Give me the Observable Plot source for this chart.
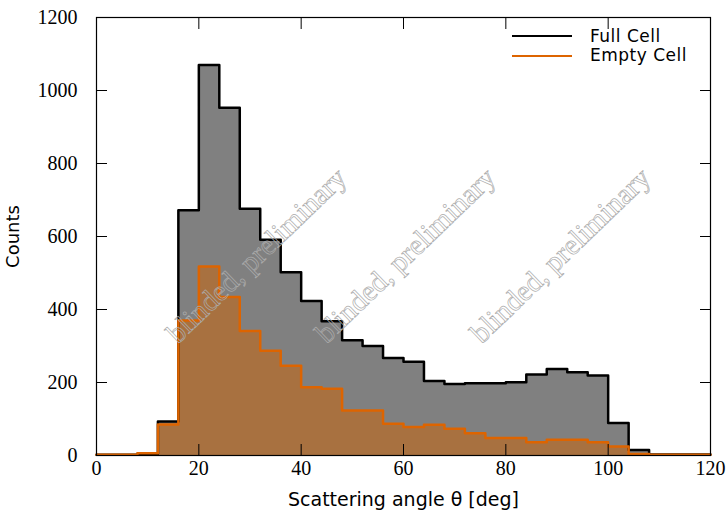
<!DOCTYPE html>
<html><head><meta charset="utf-8">
<script src="https://cdn.jsdelivr.net/npm/d3@7"></script>
<script src="https://cdn.jsdelivr.net/npm/@observablehq/plot@0.6"></script>
<style>
body{margin:0;background:#fff;}
#wrap{position:relative;width:728px;height:513px;}
.leg{position:absolute;font-family:"DejaVu Sans",sans-serif;font-size:17px;letter-spacing:0.5px;line-height:17px;color:#000;white-space:nowrap;}
.legline{position:absolute;height:0;border-top-style:solid;border-top-width:2.5px;}
</style></head><body><div id="wrap"></div>
<script>
// bin edges (deg), 4-degree bins
const binEdges = [0,4,8,12,16,20,24,28,32,36,40,44,48,52,56,60,64,68,72,76,80,84,88,92,96,100,104,108,112,116,120];
const fullCounts = [2,2,5,93,672,1070,953,676,591,502,423,368,316,300,267,257,204,196,198,198,201,222,237,228,219,89,15,3,3,3];
const emptyCounts = [2,2,6,85,370,518,434,341,287,246,187,183,123,123,87,78,84,73,61,48,48,36,43,43,36,25,4,2,2,2];
const seriesNames = ["Full Cell", "Empty Cell"];
const xTicks = [0,20,40,60,80,100,120];
const yTicks = [0,200,400,600,800,1000,1200];
const xLabel = "Scattering angle \u03b8 [deg]";
const yLabel = "Counts";
const watermarkText = "blinded, preliminary";
const watermarkX = [31.3, 60.4, 90.7];
const watermarkY = [548, 548, 548];

function steps(counts){
  return binEdges.map((x,i)=>({x, y: counts[Math.min(i, counts.length-1)]}));
}
const fullPts = steps(fullCounts);
const emptyPts = steps(emptyCounts);
const watermarks = watermarkX.map((x,i)=>({x, y: watermarkY[i], t: watermarkText}));

const serif = "Liberation Serif, serif";
const sans = "DejaVu Sans, sans-serif";
const plain = d => String(d);

const chart = Plot.plot({
  width: 728, height: 513,
  marginLeft: 96, marginRight: 18, marginTop: 17, marginBottom: 58,
  x: {domain: [0,120]},
  y: {domain: [0,1200]},
  style: {fontFamily: serif, fontSize: "20px", color: "#000", background: "#fff", overflow: "visible"},
  marks: [
    Plot.areaY(fullPts, {x: "x", y: "y", curve: "step-after", fill: "#808080"}),
    Plot.areaY(emptyPts, {x: "x", y: "y", curve: "step-after", fill: "#a87140"}),
    Plot.lineY(fullPts, {x: "x", y: "y", curve: "step-after", stroke: "#000", strokeWidth: 2.5}),
    Plot.lineY(emptyPts, {x: "x", y: "y", curve: "step-after", stroke: "#dd6400", strokeWidth: 2.5}),
    Plot.text(watermarks, {x: "x", y: "y", text: "t", rotate: -44, fontSize: 29, fontFamily: serif, fill: "none", stroke: "#acacac", strokeWidth: 0.7}),
    Plot.frame({stroke: "#000", strokeWidth: 1.2}),
    // inward ticks on all four sides
    Plot.axisY(yTicks, {anchor: "left", tickSize: 11, dx: 11, tickFormat: () => "", label: null}),
    Plot.axisY(yTicks, {anchor: "right", tickSize: 11, dx: -11, tickFormat: () => "", label: null}),
    Plot.axisX(xTicks, {anchor: "bottom", tickSize: 11, dy: -11, tickFormat: () => "", label: null}),
    Plot.axisX(xTicks, {anchor: "top", tickSize: 11, dy: 11, tickFormat: () => "", label: null}),
    // tick labels
    Plot.axisY(yTicks, {anchor: "left", tickSize: 0, tickPadding: 19, tickFormat: plain, fontSize: 20, fontFamily: serif, fontVariant: "normal", label: null}),
    Plot.axisX(xTicks, {anchor: "bottom", tickSize: 0, tickPadding: 5, tickFormat: plain, fontSize: 20, fontFamily: serif, fontVariant: "normal", label: null}),
    // axis labels
    Plot.axisY([], {anchor: "left", tickSize: 0, label: yLabel, labelAnchor: "center", labelArrow: "none", labelOffset: 90, fontSize: 18, fontFamily: sans}),
    Plot.axisX([], {anchor: "bottom", tickSize: 0, label: xLabel, labelAnchor: "center", labelArrow: "none", labelOffset: 50, fontSize: 19, fontFamily: sans})
  ]
});
const wrap = document.getElementById("wrap");
wrap.appendChild(chart);

// make sure numeric tick labels use the serif face
d3.select(chart).selectAll("text").each(function(){
  const s = this.textContent.trim();
  if (/^\d+$/.test(s)) {
    this.setAttribute("font-family", serif);
    this.style.fontFamily = serif;
    this.style.fontVariant = "normal";
  }
});

// legend (inside plot, top right)
const legColors = ["#000", "#dd6400"];
const legY = [36.7, 56.7];
seriesNames.forEach((name, i) => {
  const l = document.createElement("div");
  l.className = "legline";
  l.style.left = "512px"; l.style.width = "60px";
  l.style.top = (legY[i] - 1.25) + "px";
  l.style.borderTopColor = legColors[i];
  wrap.appendChild(l);
  const t = document.createElement("div");
  t.className = "leg";
  t.textContent = name;
  t.style.left = "590px";
  t.style.top = (legY[i] - 8.5 - (i ? 1.5 : 0)) + "px";
  wrap.appendChild(t);
});
</script></body></html>
